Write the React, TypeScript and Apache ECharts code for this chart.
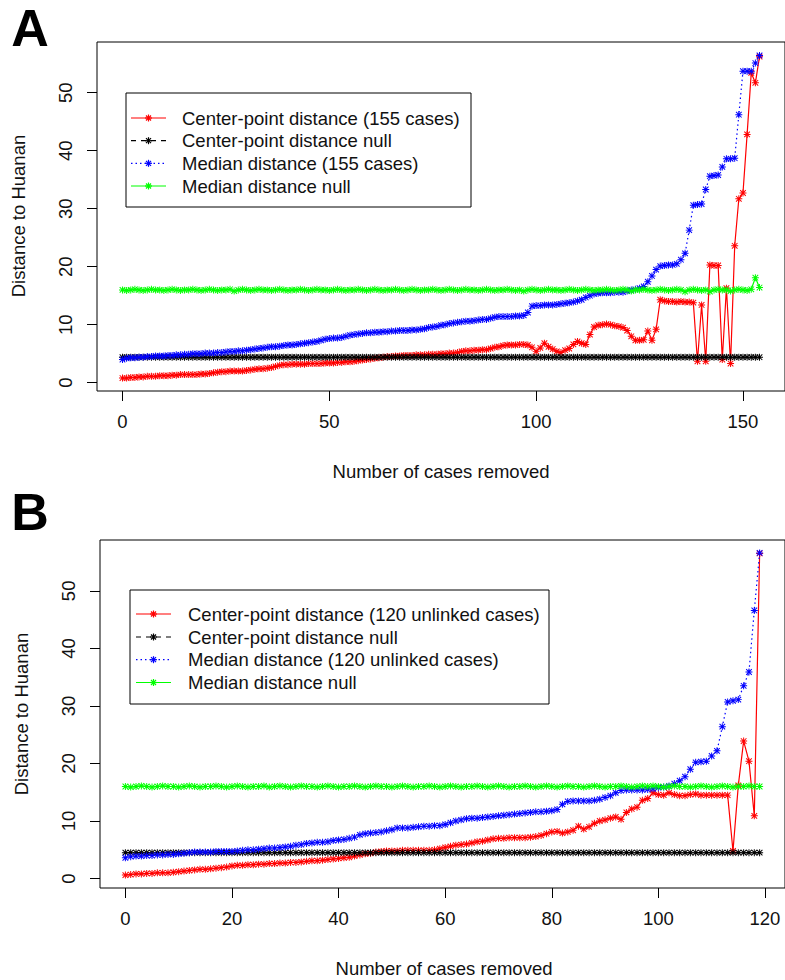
import React, { useEffect, useRef } from "react";
import * as echarts from "echarts";

// ---------- Panel A data (155 cases, x = cases removed 0..154) ----------
const centerA = [
  0.8, 0.8, 0.9, 0.9, 1.0, 1.0, 1.1, 1.1, 1.1, 1.2,
  1.2, 1.2, 1.3, 1.3, 1.4, 1.4, 1.4, 1.4, 1.4, 1.5,
  1.5, 1.6, 1.7, 1.8, 1.9, 1.9, 2.0, 2.0, 2.0, 2.0,
  2.1, 2.2, 2.3, 2.4, 2.4, 2.5, 2.6, 2.8, 3.0, 3.1,
  3.1, 3.2, 3.2, 3.2, 3.2, 3.3, 3.3, 3.3, 3.3, 3.4,
  3.4, 3.4, 3.5, 3.5, 3.6, 3.6, 3.7, 3.8, 3.9, 4.0,
  4.1, 4.2, 4.3, 4.4, 4.5, 4.5, 4.6, 4.6, 4.7, 4.7,
  4.7, 4.8, 4.8, 4.8, 4.9, 4.9, 4.9, 5.0, 5.0, 5.1,
  5.1, 5.2, 5.4, 5.5, 5.5, 5.6, 5.6, 5.7, 5.7, 5.9,
  6.1, 6.2, 6.4, 6.5, 6.5, 6.5, 6.6, 6.6, 6.5, 6.1,
  5.4, 6.0, 6.8, 6.2, 5.8, 5.4, 5.2, 5.6, 5.9, 6.6,
  7.1, 6.8, 6.6, 8.3, 9.6, 9.9, 10.0, 10.1, 10.0, 9.8,
  9.7, 9.5, 9.0, 8.0, 7.3, 7.3, 7.4, 8.9, 7.3, 9.2,
  14.3, 14.1, 14.0, 14.0, 13.9, 14.0, 13.9, 13.9, 13.8, 3.7,
  13.4, 3.7, 20.3, 20.2, 20.2, 4.0, 16.3, 3.3, 23.6, 31.7,
  32.7, 42.8, 53.4, 51.7, 56.2,
];
const centerNullA = [
  4.4, 4.4, 4.4, 4.4, 4.4, 4.4, 4.4, 4.4, 4.4, 4.4,
  4.4, 4.4, 4.4, 4.4, 4.4, 4.4, 4.4, 4.4, 4.4, 4.4,
  4.4, 4.4, 4.4, 4.4, 4.4, 4.4, 4.4, 4.4, 4.4, 4.4,
  4.4, 4.4, 4.4, 4.4, 4.4, 4.4, 4.4, 4.4, 4.4, 4.4,
  4.4, 4.4, 4.4, 4.4, 4.4, 4.4, 4.4, 4.4, 4.4, 4.4,
  4.4, 4.4, 4.4, 4.4, 4.4, 4.4, 4.4, 4.4, 4.4, 4.4,
  4.4, 4.4, 4.4, 4.4, 4.4, 4.4, 4.4, 4.4, 4.4, 4.4,
  4.4, 4.4, 4.4, 4.4, 4.4, 4.4, 4.4, 4.4, 4.4, 4.4,
  4.4, 4.4, 4.4, 4.4, 4.4, 4.4, 4.4, 4.4, 4.4, 4.4,
  4.4, 4.4, 4.4, 4.4, 4.4, 4.4, 4.4, 4.4, 4.4, 4.4,
  4.4, 4.4, 4.4, 4.4, 4.4, 4.4, 4.4, 4.4, 4.4, 4.4,
  4.4, 4.4, 4.4, 4.4, 4.4, 4.4, 4.4, 4.4, 4.4, 4.4,
  4.4, 4.4, 4.4, 4.4, 4.4, 4.4, 4.4, 4.4, 4.4, 4.4,
  4.4, 4.4, 4.4, 4.4, 4.4, 4.4, 4.4, 4.4, 4.4, 4.4,
  4.4, 4.4, 4.4, 4.4, 4.4, 4.4, 4.4, 4.4, 4.4, 4.4,
  4.4, 4.4, 4.4, 4.4, 4.4,
];
const medianA = [
  4.0, 4.2, 4.3, 4.3, 4.4, 4.4, 4.5, 4.5, 4.6, 4.6,
  4.6, 4.7, 4.7, 4.8, 4.8, 4.9, 4.9, 5.0, 5.0, 5.0,
  5.1, 5.1, 5.1, 5.2, 5.2, 5.3, 5.4, 5.4, 5.5, 5.5,
  5.6, 5.7, 5.8, 5.9, 6.0, 6.1, 6.2, 6.2, 6.3, 6.4,
  6.5, 6.5, 6.6, 6.7, 6.8, 6.9, 7.0, 7.1, 7.3, 7.5,
  7.6, 7.7, 7.7, 7.8, 8.0, 8.2, 8.3, 8.4, 8.5, 8.6,
  8.6, 8.7, 8.7, 8.8, 8.8, 8.9, 8.9, 9.0, 9.0, 9.0,
  9.1, 9.1, 9.2, 9.3, 9.5, 9.6, 9.7, 9.9, 10.0, 10.2,
  10.3, 10.4, 10.5, 10.6, 10.6, 10.7, 10.8, 10.9, 10.9, 11.1,
  11.3, 11.4, 11.4, 11.4, 11.4, 11.5, 11.5, 11.6, 12.1, 13.2,
  13.3, 13.3, 13.4, 13.4, 13.4, 13.5, 13.6, 13.7, 13.8, 13.9,
  14.1, 14.3, 14.7, 15.0, 15.3, 15.4, 15.5, 15.5, 15.5, 15.6,
  15.6, 15.6, 15.8, 16.0, 16.1, 16.3, 16.6, 17.4, 18.4, 19.5,
  20.1, 20.2, 20.3, 20.3, 20.5, 21.2, 22.3, 26.3, 30.6, 30.7,
  30.8, 33.3, 35.6, 35.7, 35.8, 37.2, 38.6, 38.6, 38.7, 46.2,
  53.7, 53.7, 53.7, 55.1, 56.4,
];
const medianNullA = [
  16.0, 15.9, 16.0, 16.1, 16.0, 15.9, 16.0, 16.1, 16.0, 16.0,
  15.9, 16.0, 16.1, 16.0, 15.9, 16.0, 16.0, 16.1, 16.0, 15.9,
  16.0, 16.1, 16.0, 15.9, 16.0, 16.0, 16.1, 15.8, 16.0, 16.1,
  16.0, 15.9, 16.0, 16.1, 16.0, 16.0, 15.9, 16.0, 16.1, 16.0,
  15.9, 16.0, 16.0, 16.1, 16.0, 15.9, 16.0, 16.1, 16.0, 16.0,
  15.9, 16.0, 16.1, 16.0, 15.9, 16.0, 16.0, 16.1, 16.0, 15.9,
  16.0, 16.1, 16.0, 15.9, 16.0, 16.0, 16.1, 16.0, 15.9, 16.0,
  16.1, 16.0, 15.9, 16.0, 16.0, 16.1, 16.0, 15.9, 16.0, 16.1,
  16.0, 15.9, 16.0, 16.1, 16.0, 16.0, 15.9, 16.0, 16.1, 16.0,
  15.9, 16.0, 16.0, 16.1, 16.0, 15.9, 16.0, 15.8, 16.0, 16.1,
  16.0, 15.9, 16.0, 16.1, 16.0, 16.0, 15.9, 16.0, 16.1, 16.0,
  15.9, 16.0, 16.1, 16.0, 15.9, 16.0, 16.0, 16.1, 16.0, 15.9,
  16.0, 16.1, 16.0, 15.8, 16.0, 16.0, 16.1, 16.0, 15.9, 16.0,
  16.1, 16.0, 15.9, 16.0, 16.1, 16.0, 15.7, 16.0, 16.1, 16.0,
  15.9, 16.0, 15.7, 16.0, 16.1, 16.0, 16.0, 15.8, 16.0, 16.1,
  16.0, 15.9, 16.1, 18.1, 16.4,
];

// ---------- Panel B data (120 unlinked cases, x = 0..119) ----------
const centerB = [
  0.6, 0.7, 0.8, 0.8, 0.9, 0.9, 1.0, 1.0, 1.0, 1.1,
  1.2, 1.3, 1.4, 1.5, 1.6, 1.6, 1.7, 1.8, 1.9, 2.0,
  2.2, 2.3, 2.3, 2.4, 2.4, 2.5, 2.5, 2.6, 2.6, 2.7,
  2.7, 2.8, 2.8, 2.9, 3.0, 3.1, 3.1, 3.2, 3.3, 3.4,
  3.5, 3.6, 3.7, 3.9, 4.1, 4.3, 4.4, 4.6, 4.7, 4.8,
  4.8, 4.8, 4.9, 4.9, 4.9, 4.9, 4.9, 4.9, 5.0, 5.2,
  5.4, 5.6, 5.8, 5.9, 6.0, 6.2, 6.4, 6.5, 6.7, 6.9,
  7.0, 7.0, 7.1, 7.1, 7.1, 7.1, 7.2, 7.3, 7.5, 7.8,
  8.1, 8.2, 7.9, 8.1, 8.4, 9.1, 8.6, 9.0, 9.6, 10.0,
  10.2, 10.5, 10.7, 10.3, 11.5, 12.1, 12.4, 13.6, 13.9, 14.9,
  14.6, 14.5, 14.9, 14.6, 14.4, 14.4, 14.6, 14.7, 14.5, 14.5,
  14.5, 14.5, 14.5, 14.5, 4.8, 16.2, 23.9, 20.4, 10.9, 56.5,
];
const centerNullB = [
  4.5, 4.5, 4.5, 4.5, 4.5, 4.5, 4.5, 4.5, 4.5, 4.5,
  4.5, 4.5, 4.5, 4.5, 4.5, 4.5, 4.5, 4.5, 4.5, 4.5,
  4.5, 4.5, 4.5, 4.5, 4.5, 4.5, 4.5, 4.5, 4.5, 4.5,
  4.5, 4.5, 4.5, 4.5, 4.5, 4.5, 4.5, 4.5, 4.5, 4.5,
  4.5, 4.5, 4.5, 4.5, 4.5, 4.5, 4.5, 4.5, 4.5, 4.5,
  4.5, 4.5, 4.5, 4.5, 4.5, 4.5, 4.5, 4.5, 4.5, 4.5,
  4.5, 4.5, 4.5, 4.5, 4.5, 4.5, 4.5, 4.5, 4.5, 4.5,
  4.5, 4.5, 4.5, 4.5, 4.5, 4.5, 4.5, 4.5, 4.5, 4.5,
  4.5, 4.5, 4.5, 4.5, 4.5, 4.5, 4.5, 4.5, 4.5, 4.5,
  4.5, 4.5, 4.5, 4.5, 4.5, 4.5, 4.5, 4.5, 4.5, 4.5,
  4.5, 4.5, 4.5, 4.5, 4.5, 4.5, 4.5, 4.5, 4.5, 4.5,
  4.5, 4.5, 4.5, 4.5, 4.5, 4.5, 4.5, 4.5, 4.5, 4.5,
];
const medianB = [
  3.6, 3.8, 3.9, 3.9, 4.0, 4.0, 4.1, 4.1, 4.2, 4.2,
  4.3, 4.4, 4.5, 4.6, 4.6, 4.6, 4.6, 4.7, 4.7, 4.7,
  4.7, 4.8, 4.9, 5.0, 5.0, 5.1, 5.2, 5.3, 5.3, 5.4,
  5.5, 5.6, 5.8, 5.9, 6.1, 6.2, 6.3, 6.3, 6.4, 6.6,
  6.7, 6.8, 7.0, 7.2, 7.6, 7.8, 7.9, 8.0, 8.1, 8.3,
  8.5, 8.8, 8.8, 8.8, 8.9, 9.0, 9.1, 9.1, 9.2, 9.2,
  9.4, 9.7, 10.0, 10.2, 10.4, 10.5, 10.5, 10.6, 10.7, 10.8,
  10.9, 11.0, 11.1, 11.2, 11.3, 11.4, 11.5, 11.6, 11.6, 11.7,
  11.8, 12.0, 12.9, 13.4, 13.5, 13.5, 13.5, 13.5, 13.6, 13.8,
  14.1, 14.4, 14.9, 15.3, 15.4, 15.4, 15.4, 15.4, 15.5, 15.6,
  15.8, 15.9, 16.1, 16.5, 17.0, 17.7, 19.0, 20.2, 20.3, 20.4,
  21.3, 22.2, 26.4, 30.7, 30.9, 31.1, 33.5, 35.9, 46.6, 56.6,
];
const medianNullB = [
  16.0, 15.9, 16.0, 16.1, 16.0, 15.9, 16.0, 16.1, 16.0, 16.0,
  15.9, 16.0, 16.1, 16.0, 15.9, 16.0, 16.0, 16.1, 16.0, 15.9,
  16.0, 16.1, 16.0, 15.9, 16.0, 16.0, 16.1, 15.9, 16.0, 16.1,
  16.0, 15.9, 16.0, 16.1, 16.0, 16.0, 15.9, 16.0, 16.1, 16.0,
  15.9, 16.0, 16.0, 16.1, 16.0, 15.9, 16.0, 16.1, 16.0, 16.0,
  15.9, 16.0, 16.1, 16.0, 15.9, 16.0, 16.0, 16.1, 16.0, 15.9,
  16.0, 16.1, 16.0, 15.9, 16.0, 16.0, 16.1, 16.0, 15.9, 16.0,
  16.1, 16.0, 15.9, 16.0, 16.0, 16.1, 16.0, 15.9, 16.0, 16.1,
  16.0, 15.9, 16.0, 16.1, 16.0, 16.0, 15.9, 16.0, 16.1, 16.0,
  15.9, 16.0, 16.0, 16.1, 16.0, 15.9, 16.0, 16.1, 16.0, 16.1,
  16.0, 15.9, 16.0, 16.1, 16.0, 16.0, 15.9, 16.0, 16.1, 16.0,
  15.9, 16.0, 16.1, 16.0, 15.9, 16.0, 16.0, 16.1, 16.0, 16.0,
];

const ticksXA = [0, 50, 100, 150];
const ticksXB = [0, 20, 40, 60, 80, 100, 120];
const ticksY = [0, 10, 20, 30, 40, 50];

const legendA = [
  "Center-point distance (155 cases)",
  "Center-point distance null",
  "Median distance (155 cases)",
  "Median distance null",
];
const legendB = [
  "Center-point distance (120 unlinked cases)",
  "Center-point distance null",
  "Median distance (120 unlinked cases)",
  "Median distance null",
];

const FONT = '"Liberation Sans", Arial, Helvetica, sans-serif';
const FS = 18.5;
const RED = "#ff0000";
const BLACK = "#000000";
const BLUE = "#0000ff";
const GREEN = "#00ff00";
const COLORS = [RED, BLACK, BLUE, GREEN];
const DASHES: any[] = ["solid", [5, 5], [1.5, 3], "solid"];
const STAR =
  "path://M4.3,0H5.7V10H4.3Z M0,4.3H10V5.7H0Z M1.5,0.5L9.5,8.5L8.5,9.5L0.5,1.5Z M8.5,0.5L9.5,1.5L1.5,9.5L0.5,8.5Z";

function toPairs(arr: number[]) {
  return arr.map((v, i) => [i, v]);
}

function mkSeries(name: string, data: number[], k: number, gi: number) {
  return {
    type: "line",
    name,
    xAxisIndex: gi,
    yAxisIndex: gi,
    data: toPairs(data),
    symbol: STAR,
    symbolSize: 7,
    showSymbol: true,
    itemStyle: { color: COLORS[k] },
    lineStyle: { color: COLORS[k], width: 1.2, type: DASHES[k] },
    emphasis: { disabled: true },
    silent: true,
    z: 2 + k,
  };
}

function mkX(gi: number, min: number, max: number, ticks: number[]) {
  return {
    type: "value",
    gridIndex: gi,
    min,
    max,
    axisLine: { show: false, onZero: false },
    axisTick: {
      show: true,
      length: 10,
      customValues: ticks,
      lineStyle: { color: "#000", width: 1 },
    },
    axisLabel: {
      customValues: ticks,
      margin: 21,
      fontSize: FS,
      fontFamily: FONT,
      color: "#111",
    },
    splitLine: { show: false },
  };
}

function mkY(gi: number, min: number, max: number) {
  return {
    type: "value",
    gridIndex: gi,
    min,
    max,
    axisLine: { show: false, onZero: false },
    axisTick: {
      show: true,
      length: 10,
      customValues: ticksY,
      lineStyle: { color: "#000", width: 1 },
    },
    axisLabel: {
      customValues: ticksY,
      rotate: 90,
      margin: 22,
      fontSize: FS,
      fontFamily: FONT,
      color: "#111",
    },
    splitLine: { show: false },
  };
}

function asterisk(cx: number, cy: number, color: string) {
  const r = 3.5;
  const d = 2.5;
  const st = { stroke: color, lineWidth: 1.2 };
  const segs = [
    [cx - r, cy, cx + r, cy],
    [cx, cy - r, cx, cy + r],
    [cx - d, cy - d, cx + d, cy + d],
    [cx - d, cy + d, cx + d, cy - d],
  ];
  return segs.map((s) => ({
    type: "line",
    z: 102,
    shape: { x1: s[0], y1: s[1], x2: s[2], y2: s[3] },
    style: st,
  }));
}

function legendBox(
  labels: string[],
  box: { x: number; y: number; w: number; h: number },
  rows: number[],
  lineX1: number,
  lineX2: number,
  textX: number
) {
  const els: any[] = [
    {
      type: "rect",
      z: 100,
      shape: { x: box.x, y: box.y, width: box.w, height: box.h },
      style: { fill: "#fff", stroke: "#000", lineWidth: 1 },
    },
  ];
  labels.forEach((lab, k) => {
    const y = rows[k];
    const dash = DASHES[k];
    els.push({
      type: "line",
      z: 101,
      shape: { x1: lineX1, y1: y, x2: lineX2, y2: y },
      style: {
        stroke: COLORS[k],
        lineWidth: 1.2,
        lineDash: Array.isArray(dash) ? dash : null,
      },
    });
    els.push(...asterisk((lineX1 + lineX2) / 2, y, COLORS[k]));
    els.push({
      type: "text",
      z: 101,
      x: textX,
      y,
      style: {
        text: lab,
        fontSize: FS,
        fontFamily: FONT,
        fill: "#111",
        align: "left",
        verticalAlign: "middle",
      },
    });
  });
  return els;
}

export default function App() {
  const ref = useRef<HTMLDivElement>(null);

  useEffect(() => {
    if (!ref.current) return;
    const chart = echarts.init(ref.current, null, { renderer: "svg" });

    const titleStyle = {
      fontSize: FS,
      fontFamily: FONT,
      fill: "#111",
      align: "center",
      verticalAlign: "middle",
    };

    const graphics: any[] = [
      {
        type: "text",
        x: 30,
        y: 28,
        style: { ...titleStyle, text: "A", fontSize: 52, fontWeight: "bold", fill: "#000" },
      },
      {
        type: "text",
        x: 30,
        y: 512,
        style: { ...titleStyle, text: "B", fontSize: 52, fontWeight: "bold", fill: "#000" },
      },
      { type: "text", x: 441, y: 471, style: { ...titleStyle, text: "Number of cases removed" } },
      { type: "text", x: 444, y: 968, style: { ...titleStyle, text: "Number of cases removed" } },
      {
        type: "text",
        x: 18,
        y: 216,
        rotation: Math.PI / 2,
        style: { ...titleStyle, text: "Distance to Huanan" },
      },
      {
        type: "text",
        x: 21,
        y: 714,
        rotation: Math.PI / 2,
        style: { ...titleStyle, text: "Distance to Huanan" },
      },
      ...legendBox(legendA, { x: 126, y: 93, w: 345, h: 114 }, [118, 140.7, 163.3, 186], 131, 166, 182),
      ...legendBox(legendB, { x: 130, y: 590, w: 419, h: 114 }, [614, 637, 659.7, 682.5], 136, 171, 188),
    ];

    chart.setOption({
      animation: false,
      backgroundColor: "#ffffff",
      grid: [
        {
          left: 97,
          top: 42,
          width: 690,
          height: 349,
          show: true,
          borderColor: "#000",
          borderWidth: 1,
          backgroundColor: "transparent",
        },
        {
          left: 100,
          top: 540,
          width: 688,
          height: 348,
          show: true,
          borderColor: "#000",
          borderWidth: 1,
          backgroundColor: "transparent",
        },
      ],
      xAxis: [mkX(0, -6.16, 160.16, ticksXA), mkX(1, -4.76, 123.76, ticksXB)],
      yAxis: [mkY(0, -1.43, 58.73), mkY(1, -1.64, 58.84)],
      series: [
        mkSeries(legendA[0], centerA, 0, 0),
        mkSeries(legendA[1], centerNullA, 1, 0),
        mkSeries(legendA[2], medianA, 2, 0),
        mkSeries(legendA[3], medianNullA, 3, 0),
        mkSeries(legendB[0], centerB, 0, 1),
        mkSeries(legendB[1], centerNullB, 1, 1),
        mkSeries(legendB[2], medianB, 2, 1),
        mkSeries(legendB[3], medianNullB, 3, 1),
      ],
      graphic: graphics,
    });

    return () => {
      chart.dispose();
    };
  }, []);

  return (
    <div
      ref={ref}
      style={{ position: "absolute", left: 0, top: 0, width: 785, height: 980 }}
    />
  );
}
